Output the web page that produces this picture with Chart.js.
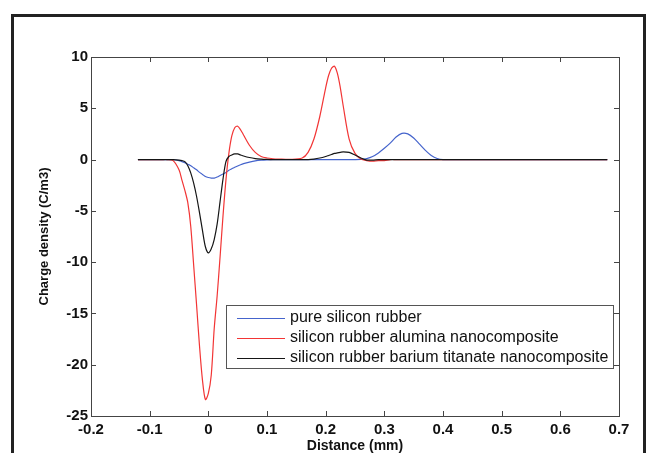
<!DOCTYPE html>
<html>
<head>
<meta charset="utf-8">
<script src="https://cdn.jsdelivr.net/npm/chart.js@4/dist/chart.umd.min.js"></script>
<style>
  body { margin: 0; background: #fff; }
  #wrap { width: 648px; height: 453px; position: relative; }
</style>
</head>
<body>
<div id="wrap"><canvas id="myChart" width="648" height="453"></canvas></div>
<script>
// distance (mm)
var distance = [-0.12, -0.10, -0.08, -0.07, -0.06, -0.05, -0.045, -0.04, -0.035, -0.03,
  -0.025, -0.02, -0.015, -0.01, -0.005, 0, 0.005, 0.01, 0.015, 0.02,
  0.025, 0.03, 0.035, 0.04, 0.045, 0.05, 0.055, 0.06, 0.07, 0.08,
  0.09, 0.1, 0.11, 0.12, 0.14, 0.16, 0.17, 0.18, 0.19, 0.2,
  0.205, 0.21, 0.215, 0.22, 0.225, 0.23, 0.24, 0.25, 0.26, 0.27,
  0.28, 0.29, 0.3, 0.31, 0.32, 0.33, 0.34, 0.35, 0.36, 0.37,
  0.38, 0.39, 0.4, 0.42, 0.45, 0.5, 0.55, 0.6, 0.65, 0.68];

// charge density (C/m3)
var pureSR = [0, 0, 0, 0, -0.02, -0.1, -0.2, -0.3, -0.45, -0.6,
  -0.8, -1.0, -1.25, -1.45, -1.65, -1.75, -1.8, -1.8, -1.7, -1.55,
  -1.4, -1.25, -1.05, -0.9, -0.75, -0.62, -0.5, -0.4, -0.25, -0.13,
  -0.06, -0.02, 0, 0, 0, 0, 0, 0, 0, 0,
  0, 0, 0, 0, 0, 0, 0, 0, 0.02, 0.1,
  0.3, 0.65, 1.1, 1.6, 2.2, 2.55, 2.5, 2.1, 1.5, 0.9,
  0.4, 0.1, 0, 0, 0, 0, 0, 0, 0, 0];

var alumina = [0, 0, 0, 0, -0.1, -1.0, -2.0, -3.0, -4.2, -6.5,
  -10.3, -14.2, -18.2, -21.5, -23.4, -22.8, -21, -16.5, -13.3, -9.5,
  -5.5, -2.0, 0.6, 2.3, 3.1, 3.25, 2.9, 2.4, 1.4, 0.7,
  0.3, 0.15, 0.08, 0.05, 0.02, 0.15, 0.7, 2.0, 4.2, 7.0,
  8.2, 8.9, 9.1, 8.4, 7.0, 5.2, 2.0, 0.6, 0.05, -0.1,
  -0.15, -0.1, -0.1, 0, 0, 0, 0, 0, 0, 0,
  0, 0, 0, 0, 0, 0, 0, 0, 0, 0];

var bariumTitanate = [0, 0, 0, 0, 0, -0.05, -0.1, -0.2, -0.6, -1.3,
  -2.3, -3.6, -5.2, -6.9, -8.5, -9.1, -8.7, -7.8, -6.3, -4.1,
  -1.9, -0.2, 0.3, 0.45, 0.55, 0.55, 0.45, 0.35, 0.2, 0.1,
  0.05, 0.02, 0, 0, 0, 0, 0, 0.05, 0.15, 0.3,
  0.4, 0.5, 0.6, 0.65, 0.7, 0.75, 0.7, 0.45, 0.15, -0.05,
  -0.05, 0, 0, 0, 0, 0, 0, 0, 0, 0,
  0, 0, 0, 0, 0, 0, 0, 0, 0, 0];

var seriesNames = ['pure silicon rubber', 'silicon rubber alumina nanocomposite', 'silicon rubber barium titanate nanocomposite'];
var seriesColors = ['#4564cc', '#f23535', '#151515'];

function pts(ys) {
  var out = [];
  for (var i = 0; i < distance.length; i++) out.push({x: distance[i], y: ys[i]});
  return out;
}

// outer frame, axes box, inward ticks, legend box
var matlabLook = {
  id: 'matlabLook',
  beforeDraw: function (chart) {
    var ctx = chart.ctx;
    ctx.save();
    ctx.fillStyle = '#fff';
    ctx.fillRect(0, 0, chart.width, chart.height);
    ctx.strokeStyle = '#222';
    ctx.lineWidth = 3;
    ctx.strokeRect(12.5, 15.5, 632, 470);
    ctx.restore();
  },
  afterDraw: function (chart) {
    var ctx = chart.ctx;
    var a = chart.chartArea;
    var xs = chart.scales.x, ys = chart.scales.y;
    ctx.save();
    ctx.strokeStyle = '#444';
    ctx.lineWidth = 1;
    ctx.strokeRect(a.left + 0.5, a.top + 0.5, a.right - a.left, a.bottom - a.top);
    ctx.beginPath();
    xs.ticks.forEach(function (t) {
      var px = Math.round(xs.getPixelForValue(t.value)) + 0.5;
      ctx.moveTo(px, a.bottom); ctx.lineTo(px, a.bottom - 5);
      ctx.moveTo(px, a.top); ctx.lineTo(px, a.top + 5);
    });
    ys.ticks.forEach(function (t) {
      var py = Math.round(ys.getPixelForValue(t.value)) + 0.5;
      ctx.moveTo(a.left, py); ctx.lineTo(a.left + 5, py);
      ctx.moveTo(a.right, py); ctx.lineTo(a.right - 5, py);
    });
    ctx.stroke();

    // legend
    var lx = 226, ly = 305, lw = 387, lh = 63;
    ctx.fillStyle = '#fff';
    ctx.fillRect(lx, ly, lw, lh);
    ctx.strokeStyle = '#555';
    ctx.strokeRect(lx + 0.5, ly + 0.5, lw, lh);
    ctx.font = '16px "Liberation Sans", Arial, sans-serif';
    ctx.textBaseline = 'middle';
    var rows = [318, 338, 358];
    chart.data.datasets.forEach(function (ds, i) {
      ctx.strokeStyle = ds.borderColor;
      ctx.beginPath();
      ctx.moveTo(237, rows[i] + 0.5);
      ctx.lineTo(285, rows[i] + 0.5);
      ctx.stroke();
      ctx.fillStyle = '#111';
      ctx.fillText(ds.label, 290, rows[i]);
    });
    ctx.restore();
  }
};

var datasets = [];
for (var k = 0; k < 3; k++) {
  datasets.push({
    label: seriesNames[k],
    data: pts([pureSR, alumina, bariumTitanate][k]),
    borderColor: seriesColors[k],
    borderWidth: 1.2,
    pointRadius: 0,
    tension: 0.3,
    fill: false,
    order: 2 - k
  });
}

var tickFont = {family: '"Liberation Sans", Arial, sans-serif', size: 15, weight: 'bold'};

new Chart(document.getElementById('myChart'), {
  type: 'line',
  data: {datasets: datasets},
  options: {
    responsive: false,
    animation: false,
    layout: {padding: {left: 33, top: 57, right: 29, bottom: 0}},
    plugins: {legend: {display: false}, tooltip: {enabled: false}},
    scales: {
      x: {
        type: 'linear',
        min: -0.2, max: 0.7,
        afterFit: function (s) { s.height = 37; },
        grid: {display: false, drawTicks: false},
        border: {display: false},
        ticks: {
          stepSize: 0.1, padding: 5, color: '#111', font: tickFont, maxRotation: 0,
          callback: function (v) { return String(Math.round(v * 10) / 10); }
        },
        title: {display: true, text: 'Distance (mm)', color: '#111',
          font: {family: '"Liberation Sans", Arial, sans-serif', size: 14, weight: 'bold'},
          padding: {top: 0, bottom: -2}}
      },
      y: {
        min: -25, max: 10,
        afterFit: function (s) { s.width = 58; },
        grid: {display: false, drawTicks: false},
        border: {display: false},
        ticks: {stepSize: 5, padding: 3, color: '#111', font: tickFont},
        title: {display: true, text: 'Charge density (C/m3)', color: '#111',
          font: {family: '"Liberation Sans", Arial, sans-serif', size: 13, weight: 'bold'},
          padding: {top: 4, bottom: 0}}
      }
    }
  },
  plugins: [matlabLook]
});
</script>
</body>
</html>
